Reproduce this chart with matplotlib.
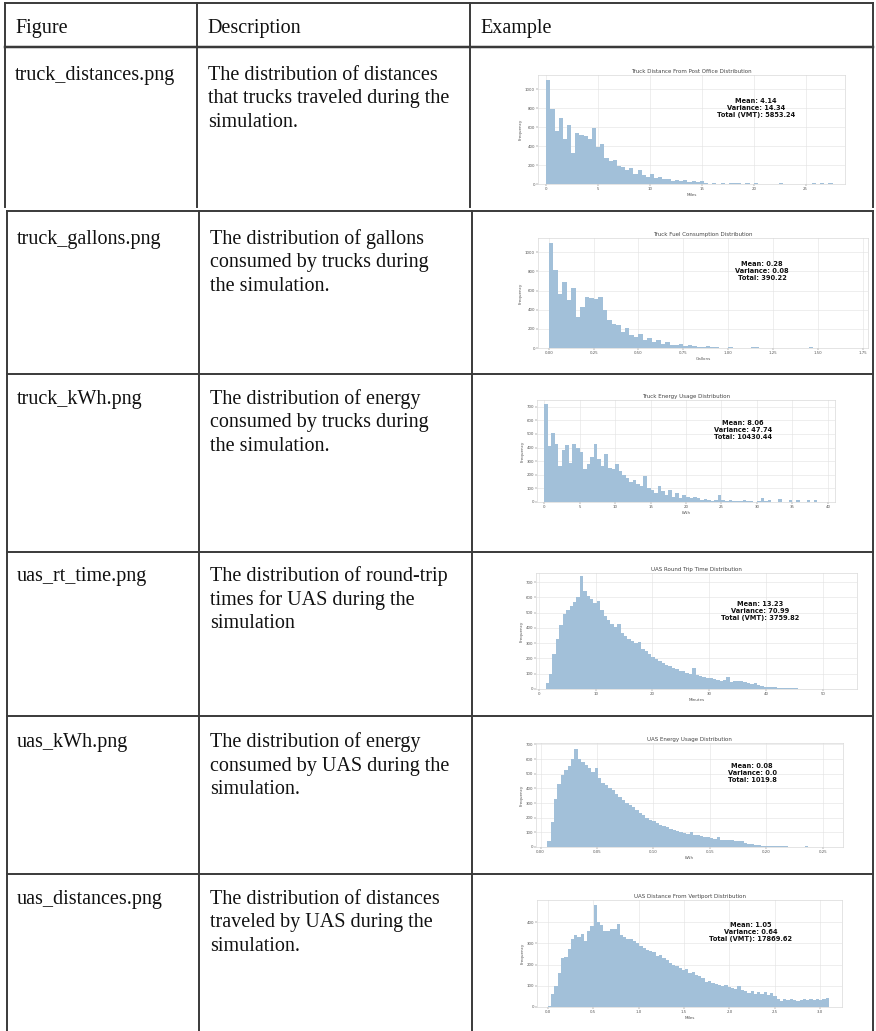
import numpy as np
import matplotlib
matplotlib.use('Agg')
import matplotlib.pyplot as plt

W, H = 876, 1031

# table text
header = ['Figure', 'Description', 'Example']
figure_names = ['truck_distances.png', 'truck_gallons.png', 'truck_kWh.png',
                'uas_rt_time.png', 'uas_kWh.png', 'uas_distances.png']
descriptions = [
    ['The distribution of distances', 'that trucks traveled during the', 'simulation.'],
    ['The distribution of gallons', 'consumed by trucks during', 'the simulation.'],
    ['The distribution of energy', 'consumed by trucks during', 'the simulation.'],
    ['The distribution of round-trip', 'times for UAS during the', 'simulation'],
    ['The distribution of energy', 'consumed by UAS during the', 'simulation.'],
    ['The distribution of distances', 'traveled by UAS during the', 'simulation.'],
]

# example chart text
titles = ['Truck Distance From Post Office Distribution',
          'Truck Fuel Consumption Distribution',
          'Truck Energy Usage Distribution',
          'UAS Round Trip Time Distribution',
          'UAS Energy Usage Distribution',
          'UAS Distance From Vertiport Distribution']
xlabels = ['Miles', 'Gallons', 'kWh', 'Minutes', 'kWh', 'Miles']
stats = ['Mean: 4.14\nVariance: 14.34\nTotal (VMT): 5853.24',
         'Mean: 0.28\nVariance: 0.08\nTotal: 390.22',
         'Mean: 8.06\nVariance: 47.74\nTotal: 10430.44',
         'Mean: 13.23\nVariance: 70.99\nTotal (VMT): 3759.82',
         'Mean: 0.08\nVariance: 0.0\nTotal: 1019.8',
         'Mean: 1.05\nVariance: 0.64\nTotal (VMT): 17869.62']

# histogram bins: (first edge, bin width) and counts
truck_miles_bins = (0.0, 0.4)
truck_miles = [1095, 790, 560, 700, 470, 620, 330, 540, 520, 505, 470, 590, 395, 420,
               275, 240, 255, 190, 175, 150, 165, 110, 150, 95, 70, 110, 60, 75, 50, 55,
               35, 45, 30, 40, 25, 35, 20, 30, 8, 5, 6, 4, 8, 5, 10, 6, 12, 4, 8, 3,
               6, 2, 5, 3, 4, 0, 10, 2, 3, 0, 2, 0, 3, 0, 8, 0, 6, 0, 7, 0]

truck_gallons_bins = (0.0, 0.025)
truck_gallons = [1100, 820, 560, 695, 500, 625, 325, 430, 537, 520, 515, 530, 400, 290,
                 255, 240, 170, 205, 135, 115, 150, 80, 100, 65, 80, 45, 60, 30, 35, 45,
                 20, 30, 25, 10, 15, 20, 8, 12, 5, 4, 6, 2, 3, 5, 4, 8, 6, 3, 0, 4,
                 2, 0, 5, 0, 0, 3, 0, 0, 6, 0, 0, 0, 0, 0, 3, 0, 4, 0, 0, 0]

truck_kwh_bins = (0.0, 0.5)
truck_kwh = [720, 415, 505, 430, 265, 380, 420, 290, 430, 400, 365, 240, 280, 330,
             430, 315, 265, 350, 250, 240, 280, 230, 200, 180, 150, 165, 130, 115, 190, 100,
             90, 65, 115, 78, 52, 90, 40, 65, 32, 52, 40, 28, 40, 28, 15, 22, 15, 10,
             15, 52, 12, 8, 14, 6, 10, 8, 12, 5, 6, 3, 8, 28, 4, 15, 3, 0, 20, 2,
             0, 15, 0, 15, 0, 0, 12, 0, 12, 0, 0, 0]

uas_minutes_bins = (1.2, 0.6)
uas_minutes = [40, 100, 230, 330, 420, 490, 520, 545, 570, 600, 740, 640, 610, 590,
               565, 575, 520, 480, 450, 425, 405, 425, 370, 345, 330, 315, 300, 305, 265, 250,
               230, 210, 195, 185, 170, 160, 150, 140, 130, 120, 115, 105, 100, 135, 90, 85,
               80, 75, 70, 65, 60, 55, 60, 78, 45, 50, 55, 50, 45, 40, 35, 40, 25, 20,
               15, 12, 10, 10, 8, 8, 6, 6, 5, 4, 3, 3, 2, 2, 1, 1, 3, 1, 0]

uas_kwh_bins = (0.006, 0.003)
uas_kwh = [40, 170, 330, 430, 490, 525, 555, 600, 670, 600, 580, 560, 540, 510,
           540, 470, 440, 420, 400, 390, 365, 340, 320, 300, 290, 270, 250, 235, 220, 200,
           185, 175, 165, 150, 145, 135, 125, 115, 110, 100, 95, 90, 100, 85, 80, 75,
           70, 65, 60, 55, 70, 50, 45, 50, 45, 40, 38, 40, 25, 22, 18, 15, 12, 10,
           8, 10, 8, 6, 5, 4, 4, 3, 3, 2, 2, 1, 10, 1, 0]

uas_miles_bins = (0.0, 0.036)
uas_miles = [5, 60, 100, 160, 230, 235, 275, 320, 340, 330, 345, 310, 360, 380,
             480, 400, 385, 360, 360, 370, 370, 390, 340, 330, 320, 320, 310, 300, 290, 280,
             270, 265, 260, 240, 245, 230, 220, 210, 200, 195, 185, 175, 180, 160, 165, 150,
             145, 135, 120, 125, 115, 110, 105, 100, 105, 95, 90, 85, 100, 80, 75, 65,
             75, 60, 70, 60, 70, 55, 65, 50, 40, 30, 40, 35, 40, 35, 30, 35, 40, 35,
             40, 35, 40, 35, 40, 42]

series = [(truck_miles_bins, truck_miles), (truck_gallons_bins, truck_gallons),
          (truck_kwh_bins, truck_kwh), (uas_minutes_bins, uas_minutes),
          (uas_kwh_bins, uas_kwh), (uas_miles_bins, uas_miles)]

# layout of each example chart, pixel box (left, top, right, bottom)
boxes = [(538, 75, 845, 184), (538, 238, 868, 348), (537, 400, 835, 502),
         (536, 573, 857, 689), (536, 743, 843, 847), (537, 900, 842, 1007)]
xlims = [(-0.8, 28.8), (-0.06, 1.78), (-1, 41), (-0.5, 56), (-0.004, 0.268), (-0.12, 3.24)]
ylims = [(0, 1150), (0, 1150), (0, 750), (0, 760), (0, 710), (0, 505)]
xticks = [np.arange(0, 26, 5), np.arange(0, 1.8, 0.25), np.arange(0, 41, 5),
          np.arange(0, 51, 10), np.arange(0, 0.26, 0.05), np.arange(0, 3.1, 0.5)]
xfmt = ['{:.0f}', '{:.2f}', '{:.0f}', '{:.0f}', '{:.2f}', '{:.1f}']
yticks = [np.arange(0, 1001, 200), np.arange(0, 1001, 200), np.arange(0, 701, 100),
          np.arange(0, 701, 100), np.arange(0, 701, 100), np.arange(0, 401, 100)]
stat_pos = [(756, 108), (762, 271), (743, 430), (760, 611), (752, 773), (751, 932)]

row_tops = [47, 211, 374, 552, 716, 874]
baselines = [80, 244, 404, 581, 747, 904]


def box(l, t, r, b):
    return [l / W, 1 - b / H, (r - l) / W, (b - t) / H]


fig = plt.figure(figsize=(W / 100, H / 100), dpi=100)
fig.patch.set_facecolor('white')

for i in range(6):
    ax = fig.add_axes(box(*boxes[i]))
    (start, width), counts = series[i]
    edges = start + width * np.arange(len(counts) + 1)
    ax.hist(edges[:-1], bins=edges, weights=counts, histtype='stepfilled',
            color='#a2c0d9', edgecolor='none')
    ax.set_xlim(*xlims[i])
    ax.set_ylim(*ylims[i])
    ax.set_xticks(xticks[i])
    ax.set_xticklabels([xfmt[i].format(v) for v in xticks[i]])
    ax.set_yticks(yticks[i])
    ax.grid(True, color='#e2e2e2', linewidth=0.4)
    ax.set_axisbelow(True)
    for s in ax.spines.values():
        s.set_color('#d0d0d0')
        s.set_linewidth(0.4)
    ax.tick_params(labelsize=2.8, length=1.2, width=0.3, pad=1,
                   colors='#555555')
    ax.set_title(titles[i], fontsize=4, pad=1.5, color='#444444')
    ax.set_xlabel(xlabels[i], fontsize=3, labelpad=1.5, color='#555555')
    ax.set_ylabel('Frequency', fontsize=3, labelpad=1.5, color='#555555')

# table drawn on top
ax0 = fig.add_axes([0, 0, 1, 1], zorder=10)
ax0.set_xlim(0, W)
ax0.set_ylim(H, 0)
ax0.axis('off')
ax0.patch.set_alpha(0)

lc = '#3a3a3a'
lw = 1.4
# first table (header + first row)
ax0.plot([5, 873], [3, 3], color=lc, lw=lw)
ax0.plot([5, 873], [47, 47], color=lc, lw=lw + 0.4)
for x in [5, 197, 470, 873]:
    ax0.plot([x, x], [3, 207], color=lc, lw=lw)
# second table (remaining rows)
for y in row_tops[1:]:
    ax0.plot([7, 873], [y, y], color=lc, lw=lw)
for x in [7, 199, 472, 873]:
    ax0.plot([x, x], [211, H], color=lc, lw=lw)

serif = 'Liberation Serif'
fs = 14.5
ax0.text(15, 33, header[0], family=serif, fontsize=fs, va='baseline', color='#111111')
ax0.text(207, 33, header[1], family=serif, fontsize=fs, va='baseline', color='#111111')
ax0.text(480, 33, header[2], family=serif, fontsize=fs, va='baseline', color='#111111')

for i in range(6):
    xn = 15 if i == 0 else 17
    xd = 208 if i == 0 else 210
    ax0.text(xn, baselines[i], figure_names[i], family=serif, fontsize=fs,
             va='baseline', color='#111111')
    for j, line in enumerate(descriptions[i]):
        ax0.text(xd, baselines[i] + 23.5 * j, line, family=serif, fontsize=fs,
                 va='baseline', color='#111111')
    ax0.text(stat_pos[i][0], stat_pos[i][1], stats[i], fontsize=4.8, weight='bold',
             ha='center', va='center', linespacing=1.2, color='#111111')

fig.savefig('out.png', dpi=100)
